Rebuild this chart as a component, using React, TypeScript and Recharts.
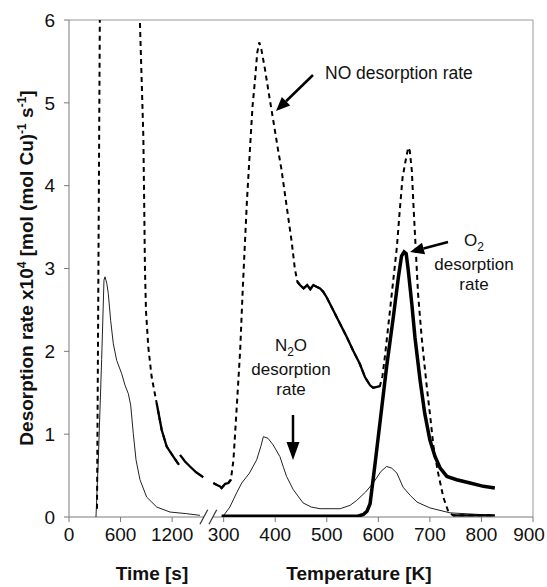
import React from 'react';
import { LineChart, Line, XAxis, YAxis, ReferenceLine, Customized } from 'recharts';

const FONT = '"Liberation Sans", Arial, Helvetica, sans-serif';

// split x axis: time in seconds on the left (drawn at 1/6 scale), temperature in K on the right
const xTicks = [0, 100, 200, 300, 400, 500, 600, 700, 800, 900];
const xTickLabels = ['0', '600', '1200', '300', '400', '500', '600', '700', '800', '900'];
const yTicks = [0, 1, 2, 3, 4, 5, 6];

// NO, isothermal (time) part - first peak runs off the top of the plot
const noTimeA_s = [326, 338, 350, 362, 815, 826, 845, 865, 875, 884, 896, 923, 962, 1021, 1079, 1137, 1214, 1280];
const noTimeA_rate = [0.1, 2.2, 4.4, 6.6, 6.6, 5.95, 5.3, 4.6, 3.8, 3.0, 2.49, 2.05, 1.69, 1.37, 1.05, 0.85, 0.73, 0.63];
const noTimeB_s = [1292, 1350, 1408, 1480, 1563];
const noTimeB_rate = [0.75, 0.67, 0.61, 0.54, 0.48];

// NO, TPD part
const noTemp_K = [280, 286, 293, 296, 303, 309, 314, 319, 325, 332, 337, 345, 351, 356, 361, 365, 369, 373, 380, 390, 398, 405, 412, 422, 432, 438, 443, 448, 455, 462, 468, 474, 480, 487, 493, 500, 513, 526, 539, 551, 564, 574, 584, 590, 597, 603, 608, 613, 619, 629, 636, 641, 647, 654, 658, 661, 665, 668, 673, 677, 684, 694, 700, 707, 716, 726, 736, 745, 780, 826];
const noTemp_rate = [0.41, 0.39, 0.37, 0.35, 0.4, 0.41, 0.45, 0.69, 1.29, 2.01, 2.75, 3.8, 4.44, 4.96, 5.29, 5.6, 5.73, 5.65, 5.41, 5.02, 4.72, 4.45, 4.2, 3.76, 3.32, 3.0, 2.84, 2.8, 2.76, 2.8, 2.75, 2.8, 2.78, 2.76, 2.72, 2.65, 2.49, 2.33, 2.17, 2.01, 1.85, 1.69, 1.59, 1.56, 1.57, 1.58, 1.7, 1.95, 2.29, 2.86, 3.26, 3.66, 4.1, 4.34, 4.46, 4.42, 4.18, 3.78, 3.18, 2.7, 2.17, 1.57, 1.25, 0.85, 0.53, 0.24, 0.06, 0.02, 0.02, 0.02];

// N2O
const n2oTime_s = [314, 341, 380, 407, 419, 440, 457, 485, 516, 555, 613, 652, 690, 718, 748, 780, 826, 904, 1021, 1175, 1370, 1524];
const n2oTime_rate = [0.0, 0.69, 1.9, 2.86, 2.9, 2.82, 2.7, 2.37, 2.09, 1.89, 1.73, 1.59, 1.49, 1.35, 1.01, 0.69, 0.45, 0.24, 0.12, 0.06, 0.04, 0.02];
const n2oTemp_K = [299, 312, 325, 335, 350, 364, 372, 377, 386, 396, 409, 416, 422, 435, 454, 470, 487, 526, 545, 558, 575, 590, 605, 616, 626, 636, 648, 662, 675, 700, 739, 826];
const n2oTemp_rate = [0.01, 0.12, 0.29, 0.41, 0.53, 0.69, 0.85, 0.97, 0.95, 0.87, 0.73, 0.6, 0.49, 0.33, 0.17, 0.12, 0.1, 0.1, 0.14, 0.2, 0.3, 0.41, 0.55, 0.61, 0.59, 0.53, 0.36, 0.26, 0.18, 0.11, 0.05, 0.02];

// O2
const o2Temp_K = [296, 350, 450, 560, 571, 578, 584, 593, 603, 616, 629, 639, 645, 650, 654, 658, 665, 671, 681, 690, 700, 710, 720, 733, 752, 778, 804, 826];
const o2Temp_rate = [0.01, 0.01, 0.01, 0.01, 0.03, 0.07, 0.16, 0.61, 1.13, 1.81, 2.41, 2.9, 3.15, 3.2, 3.18, 2.98, 2.57, 2.17, 1.65, 1.25, 0.93, 0.73, 0.59, 0.49, 0.45, 0.41, 0.37, 0.35];

const secToX = (s: number) => s / 6;
const rows = (xs: number[], ys: number[], conv = (v: number) => v) =>
  xs.map((x, i) => ({ x: conv(x), y: ys[i] }));

const noTimeA = rows(noTimeA_s, noTimeA_rate, secToX);
const noTimeB = rows(noTimeB_s, noTimeB_rate, secToX);
const noTemp = rows(noTemp_K, noTemp_rate);
const n2oTime = rows(n2oTime_s, n2oTime_rate, secToX);
const n2oTemp = rows(n2oTemp_K, n2oTemp_rate);
const o2Temp = rows(o2Temp_K, o2Temp_rate);

// where the NO points are dense enough to look like a solid line
const noTimeSolid = noTimeA.map((r) => (r.x >= secToX(1000) ? r : { x: r.x, y: null }));
const noTempSolid = noTemp.map((r) =>
  r.x <= 314 || (r.x >= 440 && r.x <= 606) || r.x >= 740 ? r : { x: r.x, y: null }
);

const Arrow = ({ x1, y1, x2, y2, head = 14, half = 6 }) => {
  const dx = x2 - x1;
  const dy = y2 - y1;
  const len = Math.sqrt(dx * dx + dy * dy);
  const ux = dx / len;
  const uy = dy / len;
  const bx = x2 - ux * head;
  const by = y2 - uy * head;
  const pts = `${x2},${y2} ${bx - uy * half},${by + ux * half} ${bx + uy * half},${by - ux * half}`;
  return (
    <g>
      <line x1={x1} y1={y1} x2={bx} y2={by} stroke="#000" strokeWidth={2.5} />
      <polygon points={pts} fill="#000" />
    </g>
  );
};

const Annotations = () => (
  <g fontFamily={FONT} fill="#111">
    <text x={33} y={268} transform="rotate(-90 33 268)" textAnchor="middle" fontWeight="bold" fontSize={19}>
      Desorption rate x10<tspan dy={-7} fontSize={12}>4</tspan>
      <tspan dy={7}> [mol (mol Cu)</tspan>
      <tspan dy={-7} fontSize={12}>-1</tspan>
      <tspan dy={7}> s</tspan>
      <tspan dy={-7} fontSize={12}>-1</tspan>
      <tspan dy={7}>]</tspan>
    </text>
    <text x={152} y={580} textAnchor="middle" fontWeight="bold" fontSize={19}>Time [s]</text>
    <text x={359} y={580} textAnchor="middle" fontWeight="bold" fontSize={19}>Temperature [K]</text>

    <text x={325} y={79} fontSize={17.5}>NO desorption rate</text>
    <Arrow x1={313} y1={75} x2={276} y2={111} />

    <text x={474} y={246} textAnchor="middle" fontSize={17}>
      O<tspan dy={5} fontSize={12}>2</tspan>
    </text>
    <text x={474} y={270} textAnchor="middle" fontSize={17}>desorption</text>
    <text x={474} y={290} textAnchor="middle" fontSize={17}>rate</text>
    <Arrow x1={448} y1={242} x2={410} y2={252} />

    <text x={291} y={351} textAnchor="middle" fontSize={17}>
      N<tspan dy={5} fontSize={12}>2</tspan>
      <tspan dy={-5}>O</tspan>
    </text>
    <text x={291} y={375} textAnchor="middle" fontSize={17}>desorption</text>
    <text x={291} y={395} textAnchor="middle" fontSize={17}>rate</text>
    <Arrow x1={293} y1={415} x2={293} y2={460} head={18} half={6.5} />
  </g>
);

const XTick = ({ x, y, payload }) => {
  const i = xTicks.indexOf(payload.value);
  const shift = payload.value === 900 ? -4 : 0;
  return (
    <text x={x + shift} y={y} dy="0.71em" textAnchor="middle" fontSize={19} fill="#111" fontFamily={FONT}>
      {xTickLabels[i]}
    </text>
  );
};

const tickStyle = { fontSize: 19, fill: '#111', fontFamily: FONT };
const axisGrey = '#7a7a7a';

export default function App() {
  return (
    <div style={{ position: 'absolute', left: 0, top: 0, width: 547, height: 587, background: '#fff' }}>
      <LineChart width={547} height={587} margin={{ top: 20, right: 14, bottom: 0, left: 0 }}>
        <XAxis
          type="number"
          dataKey="x"
          domain={[0, 900]}
          ticks={xTicks}
          interval={0}
          axisLine={false}
          tickLine={{ stroke: axisGrey }}
          tickSize={5}
          tickMargin={6}
          height={70}
          tick={XTick}
        />
        <YAxis
          type="number"
          domain={[0, 6]}
          ticks={yTicks}
          interval={0}
          allowDataOverflow
          width={69}
          axisLine={{ stroke: axisGrey }}
          tickLine={{ stroke: axisGrey }}
          tickSize={5}
          tickMargin={9}
          tick={tickStyle}
        />

        {/* frame and broken x axis */}
        <ReferenceLine y={6} stroke="#999" />
        <ReferenceLine x={900} stroke="#999" />
        <ReferenceLine segment={[{ x: 0, y: 0 }, { x: 262, y: 0 }]} stroke={axisGrey} />
        <ReferenceLine segment={[{ x: 279, y: 0 }, { x: 900, y: 0 }]} stroke={axisGrey} />
        <ReferenceLine segment={[{ x: 254, y: -0.088 }, { x: 269, y: 0.088 }]} stroke="#333" strokeWidth={1.2} ifOverflow="visible" />
        <ReferenceLine segment={[{ x: 271.5, y: -0.088 }, { x: 286.5, y: 0.088 }]} stroke="#333" strokeWidth={1.2} ifOverflow="visible" />

        <Line data={n2oTime} dataKey="y" type="linear" stroke="#222" strokeWidth={1} dot={false} isAnimationActive={false} />
        <Line data={n2oTemp} dataKey="y" type="linear" stroke="#222" strokeWidth={1} dot={false} isAnimationActive={false} />
        <Line data={o2Temp} dataKey="y" type="linear" stroke="#000" strokeWidth={3.5} dot={false} isAnimationActive={false} />
        <Line data={noTimeA} dataKey="y" type="linear" stroke="#000" strokeWidth={2} strokeDasharray="5 4" dot={false} isAnimationActive={false} />
        <Line data={noTimeSolid} dataKey="y" type="linear" stroke="#000" strokeWidth={2.3} dot={false} isAnimationActive={false} />
        <Line data={noTimeB} dataKey="y" type="linear" stroke="#000" strokeWidth={2.3} dot={false} isAnimationActive={false} />
        <Line data={noTemp} dataKey="y" type="linear" stroke="#000" strokeWidth={2} strokeDasharray="5 4" dot={false} isAnimationActive={false} />
        <Line data={noTempSolid} dataKey="y" type="linear" stroke="#000" strokeWidth={2.3} dot={false} isAnimationActive={false} />

        <Customized component={Annotations} />
      </LineChart>
    </div>
  );
}
